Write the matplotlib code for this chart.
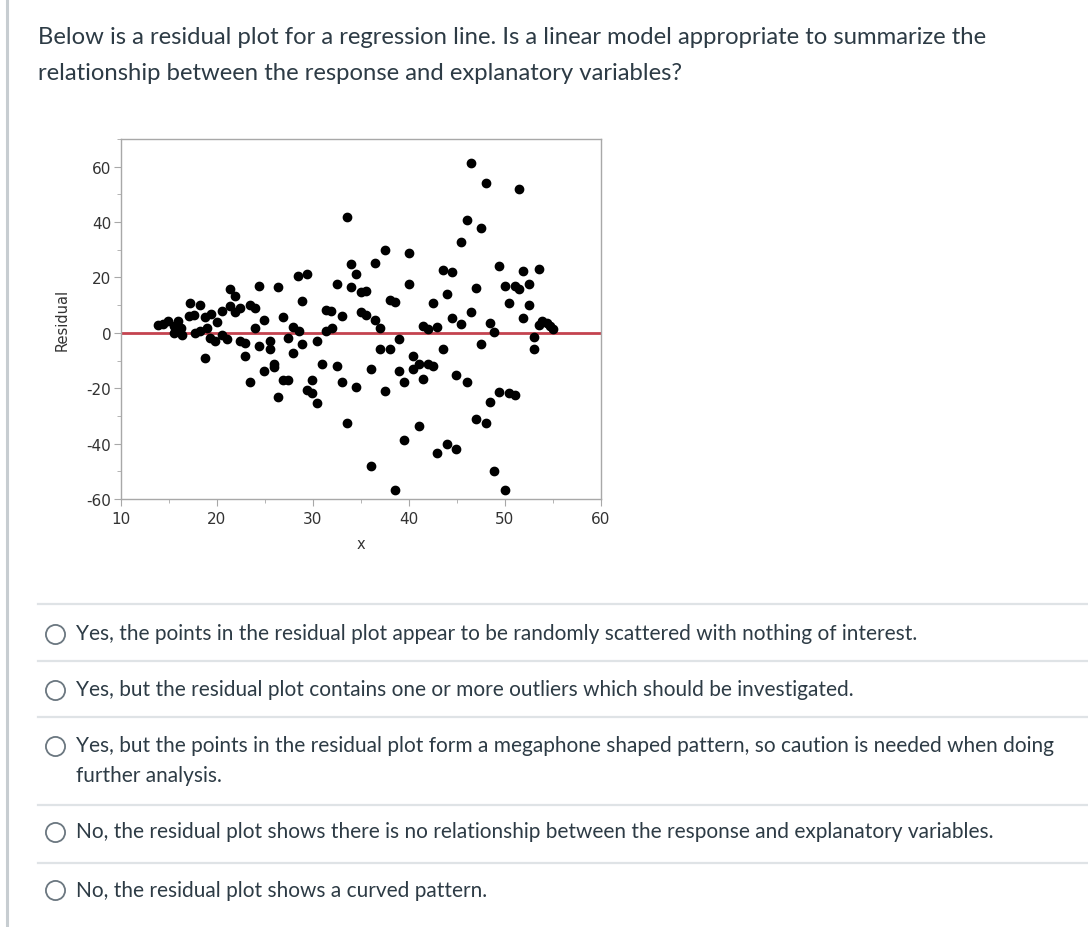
import matplotlib.pyplot as plt
from matplotlib.ticker import MultipleLocator

plt.rcParams['axes.unicode_minus'] = False

x_vals = [13.9, 14.4, 14.9, 15.5, 15.5, 15.9, 16.3, 16.4, 17.1, 17.2, 17.6, 17.7,
          18.2, 18.2, 18.7, 18.7, 19.0, 19.3, 19.4, 19.8, 20.0, 20.5, 20.5, 21.0,
          21.4, 21.4, 21.9, 21.9, 22.4, 22.4, 22.9, 22.9, 23.4, 23.4, 24.0, 24.0,
          24.4, 24.4, 24.9, 24.9, 25.5, 25.5, 25.9, 25.9, 26.4, 26.4, 26.9, 26.9,
          27.4, 27.4, 27.9, 27.9, 28.4, 28.5, 28.9, 28.9, 29.4, 29.4, 29.9, 29.9,
          30.4, 30.4, 30.9, 31.4, 31.4, 31.9, 32.0, 32.5, 32.5, 33.0, 33.0, 33.5,
          33.5, 34.0, 34.0, 34.5, 34.5, 35.0, 35.0, 35.5, 35.5, 36.0, 36.0, 36.5,
          36.5, 37.0, 37.0, 37.5, 37.5, 38.0, 38.0, 38.5, 38.5, 39.0, 39.0, 39.5,
          39.5, 40.0, 40.0, 40.4, 40.4, 41.0, 41.0, 41.5, 41.5, 42.0, 42.0, 42.5,
          42.5, 42.9, 42.9, 43.5, 43.5, 44.0, 44.0, 44.5, 44.5, 44.9, 44.9, 45.4,
          45.4, 46.0, 46.0, 46.5, 46.5, 47.0, 47.0, 47.5, 47.5, 48.0, 48.0, 48.4,
          48.4, 48.9, 48.9, 49.4, 49.4, 50.0, 50.0, 50.4, 50.4, 51.0, 51.0, 51.45,
          51.45, 51.9, 51.9, 52.5, 52.5, 53.0, 53.0, 53.5, 53.5, 53.9, 54.4, 54.7,
          54.95]
residuos = [3.0, 3.3, 4.2, 2.4, -0.2, 4.2, 1.8, -0.6, 6.0, 10.8, 6.6, 0.0,
            10.2, 0.6, 5.8, -9.0, 1.8, -1.8, 6.9, -3.0, 3.9, 7.8, -0.6, -2.4,
            15.7, 9.6, 13.3, 7.5, 9.0, -3.0, -3.6, -8.2, 10.2, -17.8, 9.0, 1.7,
            16.9, -4.6, 4.8, -13.9, -3.0, -6.0, -11.4, -12.3, 16.5, -23.3, 5.8, -16.9,
            -1.8, -16.9, 2.0, -7.2, 20.5, 0.6, 11.4, -4.2, 21.4, -20.8, -17.1, -21.7,
            -3.0, -25.5, -11.2, 8.4, 0.6, 7.8, 1.8, 17.8, -11.8, 6.0, -17.8, 41.9,
            -32.5, 24.7, 16.6, 21.4, -19.5, 14.8, 7.5, 15.1, 6.6, -12.9, -48.2, 25.3,
            4.8, 1.6, -5.7, 29.9, -21.1, 11.7, -6.0, 11.1, -56.6, -2.2, -13.6, -17.7,
            -38.6, 28.9, 17.5, -8.4, -13.0, -11.2, -33.7, 2.4, -16.6, 1.4, -11.4, 10.8,
            -11.8, 2.0, -43.4, 22.7, -6.0, 13.9, -40.0, 22.0, 5.4, -15.3, -41.8, 32.9,
            3.3, 40.7, -17.7, 61.4, 7.5, 16.3, -31.1, 37.7, -4.0, 54.2, -32.5, 3.6,
            -24.9, 0.4, -50.0, 24.1, -21.4, 16.9, -56.9, 10.8, -21.7, 16.9, -22.3, 51.8,
            15.7, 22.5, 5.4, 17.8, 10.0, -1.4, -5.7, 23.1, 3.0, 4.2, 3.6, 2.4,
            1.4]

pregunta = ["Below is a residual plot for a regression line. Is a linear model appropriate to summarize the",
            "relationship between the response and explanatory variables?"]
opciones = [["Yes, the points in the residual plot appear to be randomly scattered with nothing of interest."],
            ["Yes, but the residual plot contains one or more outliers which should be investigated."],
            ["Yes, but the points in the residual plot form a megaphone shaped pattern, so caution is needed when doing",
             "further analysis."],
            ["No, the residual plot shows there is no relationship between the response and explanatory variables."],
            ["No, the residual plot shows a curved pattern."]]

W, H = 1088, 928
texto = '#2d3b45'
fig = plt.figure(figsize=(W / 100, H / 100), dpi=100)

# capa de fondo en pixeles para el texto de la pagina
fondo = fig.add_axes([0, 0, 1, 1])
fondo.set_xlim(0, W)
fondo.set_ylim(H, 0)
fondo.axis('off')

fondo.plot([7, 7], [0, H], color='#c7cdd1', lw=2.2)
for i, linea in enumerate(pregunta):
    fondo.text(38, 44 + 36 * i, linea, fontsize=17.2, family='Lato', color=texto, va='baseline')

separadores = [605, 662, 718, 806, 864]
base_opciones = [640, 696, 752, 838, 897]
circulos = [635, 691, 747, 833, 891]
for sep in separadores:
    fondo.plot([38, W], [sep, sep], color='#dfe3e6', lw=1.6)
for base, cy, lineas in zip(base_opciones, circulos, opciones):
    fondo.scatter([55], [cy], s=190, facecolor='white', edgecolor='#6b7780', lw=1.3)
    for j, linea in enumerate(lineas):
        fondo.text(76, base + 30 * j, linea, fontsize=15, family='Lato', color=texto, va='baseline')

# grafica de residuos
ax = fig.add_axes([121 / W, 1 - 500 / H, 480 / W, 360 / H])
ax.scatter(x_vals, residuos, s=36, color='black', zorder=3)
ax.axhline(0, color='#c4434f', lw=2, zorder=2)
ax.set_xlim(10, 60)
ax.set_ylim(-60, 70)
ax.xaxis.set_major_locator(MultipleLocator(10))
ax.xaxis.set_minor_locator(MultipleLocator(5))
ax.yaxis.set_major_locator(MultipleLocator(20))
ax.yaxis.set_minor_locator(MultipleLocator(10))
for s in ax.spines.values():
    s.set_color('#a8a8a8')
    s.set_linewidth(1)
ax.tick_params(which='major', length=5, color='#a8a8a8', labelsize=11, labelcolor='#333333', pad=2)
ax.tick_params(axis='x', which='major', pad=4)
ax.tick_params(which='minor', length=3, color='#a8a8a8')
ax.set_xlabel('x', fontsize=10.5, color='#333333', labelpad=7)
ax.set_ylabel('Residual', fontsize=10.5, color='#333333', labelpad=12)

plt.savefig('out.png', dpi=100)
